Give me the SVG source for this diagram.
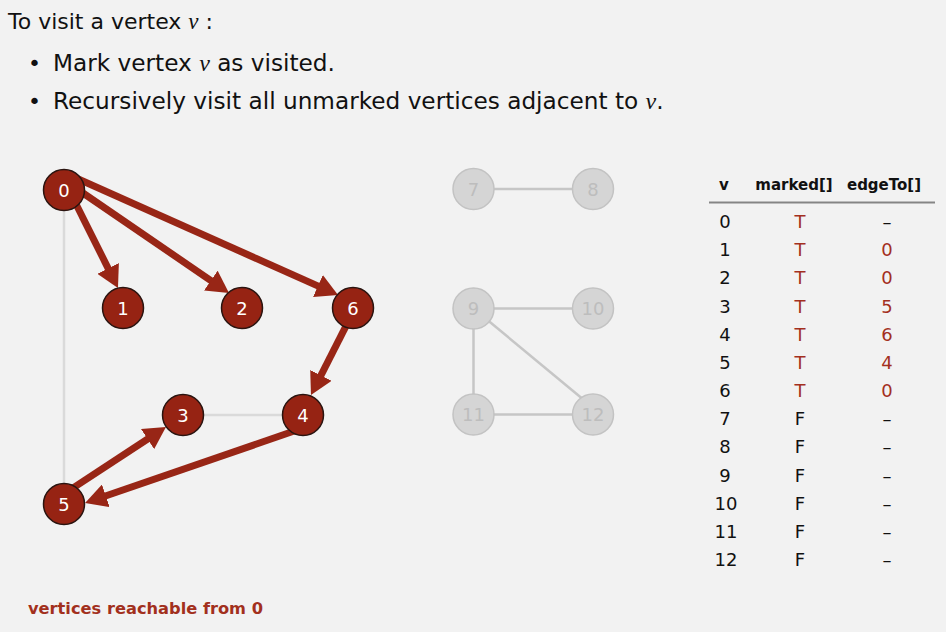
<svg xmlns="http://www.w3.org/2000/svg" width="946" height="632" viewBox="0 0 946 632">
<defs>
<style>
.t{font-family:"DejaVu Sans","Liberation Sans",sans-serif;fill:#111}
.it{font-family:"Liberation Serif",serif;font-style:italic}
.red{fill:#a3301e}
.hd{font-family:"DejaVu Sans","Liberation Sans",sans-serif;font-weight:bold;font-size:15px;fill:#111;text-anchor:middle}
.cell{font-family:"DejaVu Sans","Liberation Sans",sans-serif;font-size:18px;text-anchor:middle;fill:#111}
.node circle{fill:#962313;stroke:#2a1410;stroke-width:1.5}
.node text{font-family:"DejaVu Sans","Liberation Sans",sans-serif;font-size:18px;fill:#fff;text-anchor:middle}
.gnode circle{fill:#d5d5d5;stroke:#c3c3c3;stroke-width:1.5}
.gnode text{font-family:"DejaVu Sans","Liberation Sans",sans-serif;font-size:18px;fill:#bdbdbd;text-anchor:middle}
.arr{stroke:#982616;stroke-width:7;fill:none;marker-end:url(#ah)}
.le{stroke:#dadada;stroke-width:2.5}
.ge{stroke:#c6c6c6;stroke-width:2.5}
</style>
<marker id="ah" markerUnits="userSpaceOnUse" markerWidth="22" markerHeight="24" viewBox="0 0 22 24" refX="12" refY="12" orient="auto">
<path d="M0,0 L22,12 L0,24 z" fill="#982616"/>
</marker>
</defs>
<rect width="946" height="632" fill="#f2f2f2"/>

<g id="header-text">
<text class="t" x="8" y="29" font-size="22">To visit a vertex <tspan class="it" font-size="23">v</tspan> :</text>
<text class="t" x="28" y="71" font-size="22">•</text>
<text class="t" x="53" y="71" font-size="23.2">Mark vertex <tspan class="it" font-size="24">v</tspan> as visited.</text>
<text class="t" x="28" y="109" font-size="22">•</text>
<text class="t" x="53" y="109" font-size="23.2">Recursively visit all unmarked vertices adjacent to <tspan class="it" font-size="24">v</tspan>.</text>
</g>

<g id="connectors">
<line class="le" x1="64" y1="190" x2="64" y2="504"/>
<line class="le" x1="183" y1="415" x2="303" y2="415"/>
<line class="ge" x1="473" y1="189" x2="593" y2="189"/>
<line class="ge" x1="473" y1="308.5" x2="593" y2="308.5"/>
<line class="ge" x1="473.5" y1="308.5" x2="473.5" y2="414.5"/>
<line class="ge" x1="473.5" y1="308.5" x2="593" y2="407.5"/>
<line class="ge" x1="473" y1="414.5" x2="593" y2="414.5"/>
<line class="arr" x1="74" y1="200" x2="113.5" y2="279.1"/>
<line class="arr" x1="80" y1="191" x2="220.75" y2="287.35"/>
<line class="arr" x1="70.4" y1="175.5" x2="328.9" y2="290.9"/>
<line class="arr" x1="349.5" y1="319.1" x2="315.5" y2="386.1"/>
<line class="arr" x1="306.5" y1="426.8" x2="94.5" y2="499.8"/>
<line class="arr" x1="66.3" y1="492.4" x2="157.6" y2="432.5"/>
</g>

<g id="n0" class="node"><circle cx="64" cy="190" r="20.5"/><text x="64" y="196.5">0</text></g>
<g id="n1" class="node"><circle cx="123" cy="308" r="20.5"/><text x="123" y="314.5">1</text></g>
<g id="n2" class="node"><circle cx="242" cy="308" r="20.5"/><text x="242" y="314.5">2</text></g>
<g id="n6" class="node"><circle cx="353" cy="308" r="20.5"/><text x="353" y="314.5">6</text></g>
<g id="n3" class="node"><circle cx="183" cy="415" r="20.5"/><text x="183" y="421.5">3</text></g>
<g id="n4" class="node"><circle cx="303" cy="415" r="20.5"/><text x="303" y="421.5">4</text></g>
<g id="n5" class="node"><circle cx="64" cy="504" r="20.5"/><text x="64" y="510.5">5</text></g>

<g id="n7" class="gnode"><circle cx="473.5" cy="189" r="20.5"/><text x="473.5" y="195.5">7</text></g>
<g id="n8" class="gnode"><circle cx="593" cy="189" r="20.5"/><text x="593" y="195.5">8</text></g>
<g id="n9" class="gnode"><circle cx="473.5" cy="308.5" r="20.5"/><text x="473.5" y="315">9</text></g>
<g id="n10" class="gnode"><circle cx="593" cy="308.5" r="20.5"/><text x="593" y="315">10</text></g>
<g id="n11" class="gnode"><circle cx="473.5" cy="414.5" r="20.5"/><text x="473.5" y="421">11</text></g>
<g id="n12" class="gnode"><circle cx="593" cy="414.5" r="20.5"/><text x="593" y="421">12</text></g>

<g id="table">
<text class="hd" x="724" y="190">v</text>
<text class="hd" x="794" y="190">marked[]</text>
<text class="hd" x="884" y="190">edgeTo[]</text>
<line x1="709" y1="202.5" x2="935" y2="202.5" stroke="#858585" stroke-width="2"/>
<g class="cell">
<text x="725" y="228">0</text><text x="800" y="228" class="red">T</text><text x="887" y="228">–</text>
<text x="725" y="256.2">1</text><text x="800" y="256.2" class="red">T</text><text x="887" y="256.2" class="red">0</text>
<text x="725" y="284.3">2</text><text x="800" y="284.3" class="red">T</text><text x="887" y="284.3" class="red">0</text>
<text x="725" y="312.5">3</text><text x="800" y="312.5" class="red">T</text><text x="887" y="312.5" class="red">5</text>
<text x="725" y="340.7">4</text><text x="800" y="340.7" class="red">T</text><text x="887" y="340.7" class="red">6</text>
<text x="725" y="368.9">5</text><text x="800" y="368.9" class="red">T</text><text x="887" y="368.9" class="red">4</text>
<text x="725" y="397">6</text><text x="800" y="397" class="red">T</text><text x="887" y="397" class="red">0</text>
<text x="725" y="425.2">7</text><text x="800" y="425.2">F</text><text x="887" y="425.2">–</text>
<text x="725" y="453.4">8</text><text x="800" y="453.4">F</text><text x="887" y="453.4">–</text>
<text x="725" y="481.5">9</text><text x="800" y="481.5">F</text><text x="887" y="481.5">–</text>
<text x="726" y="509.7">10</text><text x="800" y="509.7">F</text><text x="887" y="509.7">–</text>
<text x="726" y="537.9">11</text><text x="800" y="537.9">F</text><text x="887" y="537.9">–</text>
<text x="726" y="566">12</text><text x="800" y="566">F</text><text x="887" y="566">–</text>
</g>
</g>

<g id="caption">
<text x="28" y="614" font-family="DejaVu Sans, Liberation Sans, sans-serif" font-weight="bold" font-size="16" fill="#a2301d" textLength="235" lengthAdjust="spacingAndGlyphs">vertices reachable from 0</text>
</g>
</svg>
